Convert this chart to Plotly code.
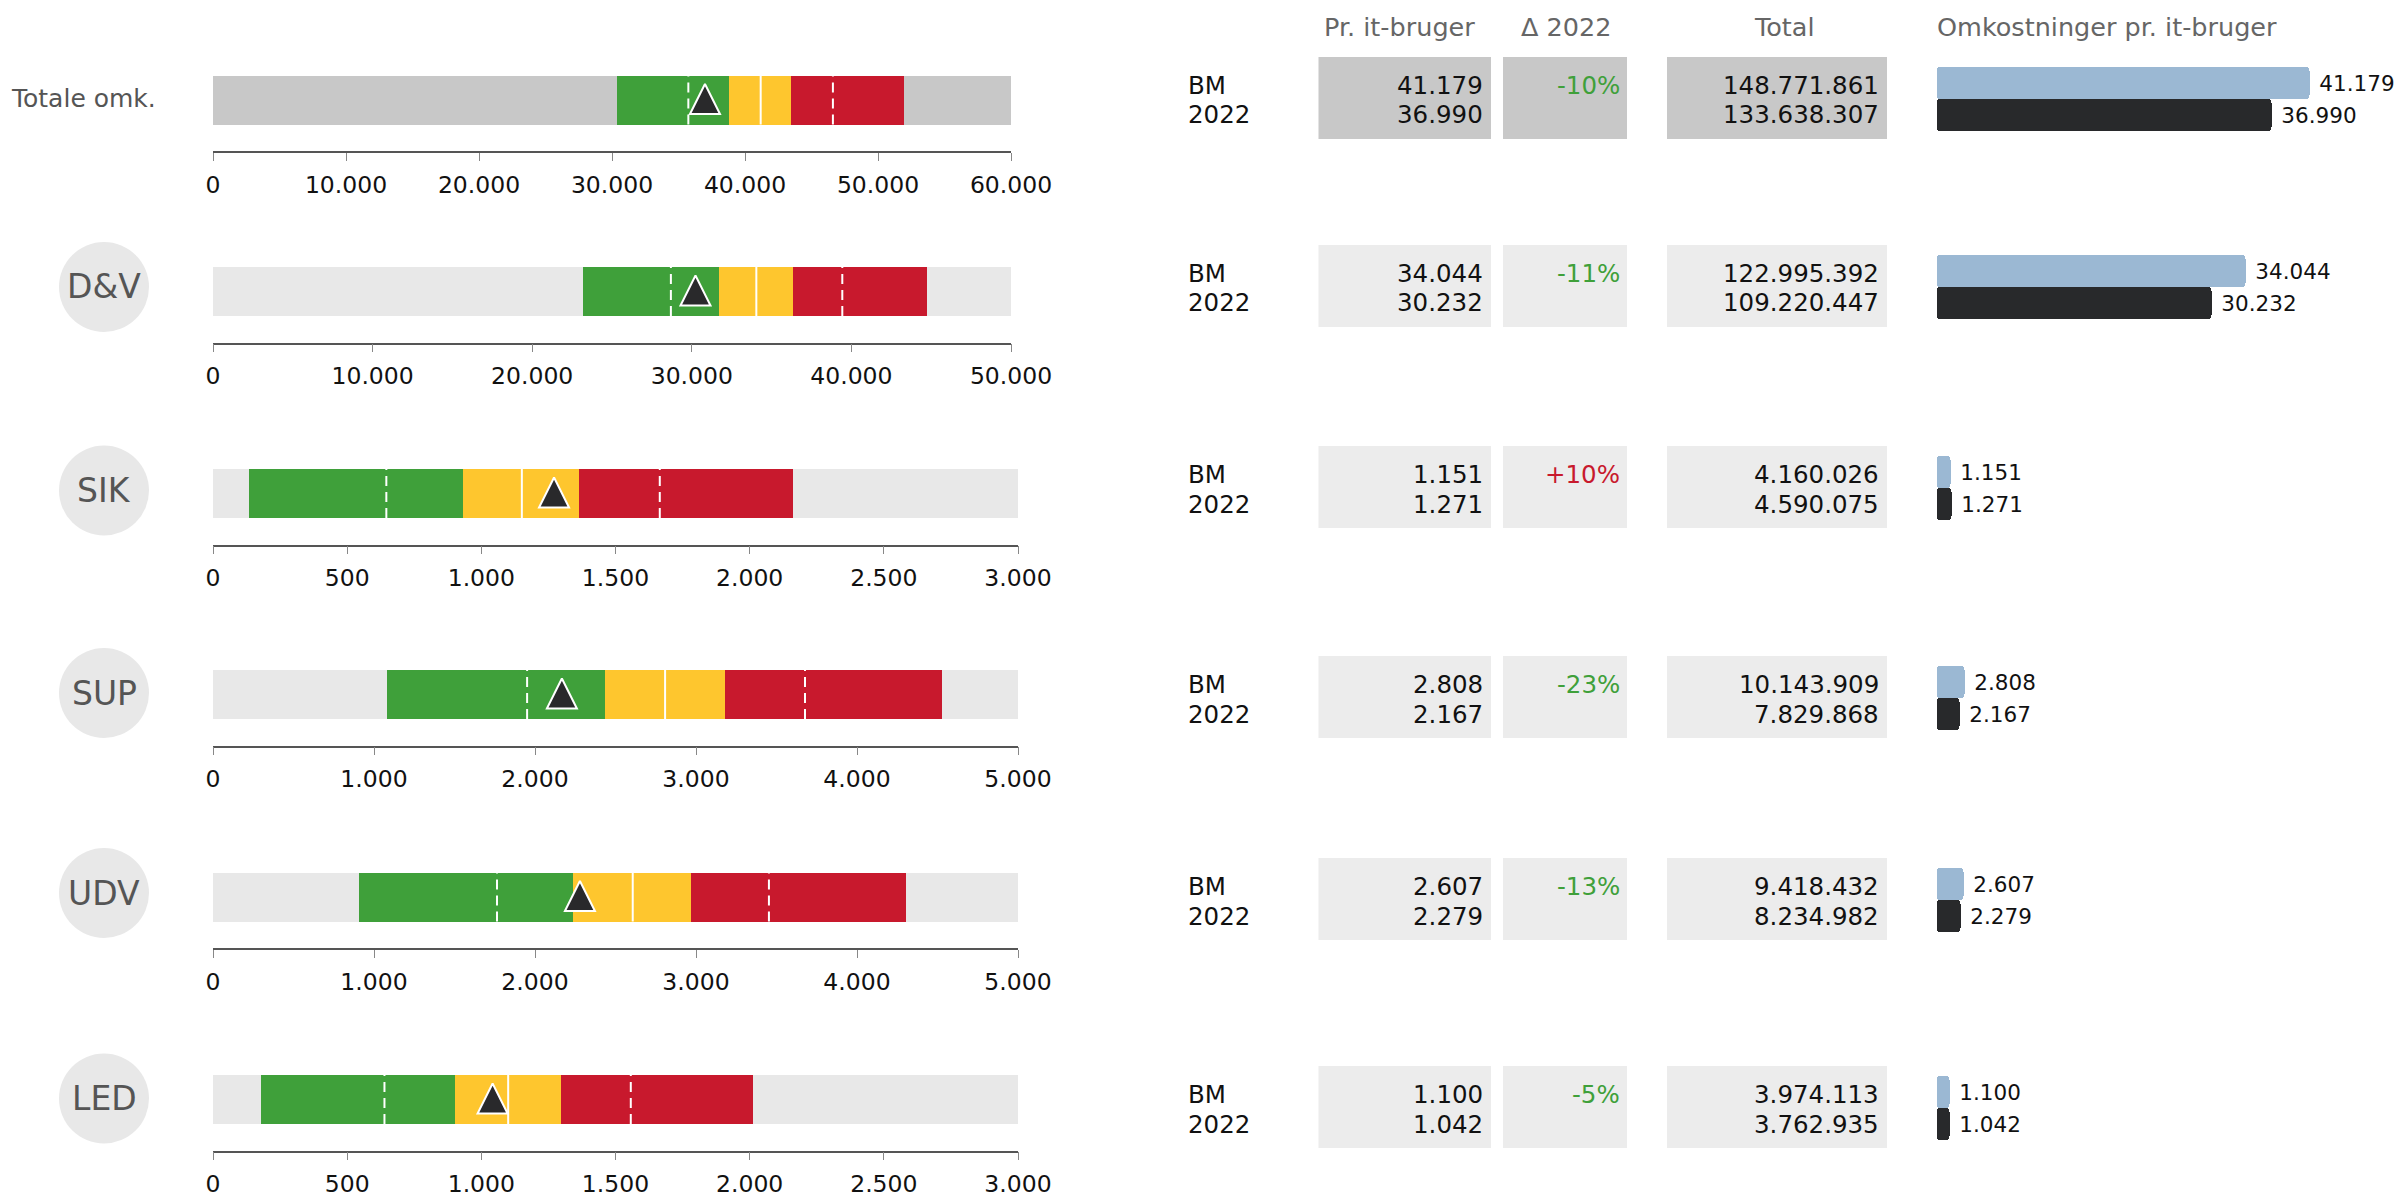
import plotly.graph_objects as go

W, H = 2402, 1197

# ---------------- data ----------------
categories = ["Totale omk.", "D&V", "SIK", "SUP", "UDV", "LED"]
axis_max = [60000, 50000, 3000, 5000, 5000, 3000]
axis_step = [10000, 10000, 500, 1000, 1000, 500]

green_start = [30350, 23200, 135, 1082, 907, 177]
green_mark = [35740, 28690, 646, 1951, 1764, 639]      # dashed line in green band
green_end = [38810, 31710, 931, 2433, 2238, 901]
yellow_end = [43490, 36330, 1365, 3182, 2970, 1298]
red_mark = [46610, 39430, 1665, 3677, 3453, 1557]      # dashed line in red band
red_end = [51950, 44760, 2161, 4530, 4305, 2012]

per_user_bm = [41179, 34044, 1151, 2808, 2607, 1100]
per_user_2022 = [36990, 30232, 1271, 2167, 2279, 1042]
delta_2022 = [-10, -11, 10, -23, -13, -5]
total_bm = [148771861, 122995392, 4160026, 10143909, 9418432, 3974113]
total_2022 = [133638307, 109220447, 4590075, 7829868, 8234982, 3762935]

row_labels = ["BM", "2022"]
headers = ["Pr. it-bruger", "\u0394 2022", "Total", "Omkostninger pr. it-bruger"]

# ---------------- style / geometry ----------------
FONT = "DejaVu Sans"
GREEN, YELLOW, RED = "#3fa03a", "#fec62e", "#c8192d"
TRI = "#29292b"
BM_BAR, Y22_BAR = "#9bb8d3", "#28292b"

bar_centers = [100, 291.5, 493.5, 694.5, 897, 1099.5]
circle_centers = [None, 287, 490.5, 693, 893, 1098.5]
axis_right = [1011, 1011, 1018, 1018, 1018, 1018]
table_tops = [57, 245, 446, 656, 858, 1066]
BAR_H = 49
AX_OFF = 51
MINI_LEFT, MINI_RIGHT = 1936.5, 2400
MINI_PX_PER_UNIT = 0.00898
MINI_MIN_PX = 3.2          # bars keep a small minimum stub, like the original
TABLE_FONT = 24.5


def px(x):
    return x / W


def py(y):
    return 1 - y / H


def fmt(v):
    return f"{v:,}".replace(",", ".")


fig = go.Figure()
axes = {}
shapes = []
annotations = []


def ax_names(n):
    if n == 1:
        return "xaxis", "yaxis", "x", "y"
    return f"xaxis{n}", f"yaxis{n}", f"x{n}", f"y{n}"


stub = MINI_MIN_PX / MINI_PX_PER_UNIT

for i in range(6):
    # ---------- bullet chart ----------
    n = 2 * i + 1
    xk, yk, xr, yr = ax_names(n)
    c = bar_centers[i]
    h = BAR_H / 2
    bg = "#c8c8c8" if i == 0 else "#e8e8e8"
    ticks = list(range(0, axis_max[i] + 1, axis_step[i]))
    axes[xk] = dict(domain=[px(213), px(axis_right[i])], anchor=yr, range=[0, axis_max[i]],
                    showgrid=False, zeroline=False, showline=True, linecolor="#555", linewidth=1.5,
                    ticks="outside", ticklen=8, tickwidth=1.2, tickcolor="#888",
                    tickvals=ticks, tickformat=",d", ticklabelstandoff=4, automargin=False,
                    tickfont=dict(size=23.5, color="#111", family=FONT), fixedrange=True)
    axes[yk] = dict(domain=[py(c + AX_OFF), py(c - h)], anchor=xr, range=[-AX_OFF, h],
                    visible=False, fixedrange=True, automargin=False)

    common = dict(orientation="h", xaxis=xr, yaxis=yr, hoverinfo="skip", showlegend=False)
    fig.add_trace(go.Bar(x=[axis_max[i]], y=[0], base=[0], width=[BAR_H],
                         marker=dict(color=bg, line=dict(width=0)), **common))
    fig.add_trace(go.Bar(x=[green_end[i] - green_start[i]], y=[0], base=[green_start[i]], width=[BAR_H],
                         marker=dict(color=GREEN, line=dict(width=0)), **common))
    fig.add_trace(go.Bar(x=[yellow_end[i] - green_end[i]], y=[0], base=[green_end[i]], width=[BAR_H],
                         marker=dict(color=YELLOW, line=dict(width=0)), **common))
    fig.add_trace(go.Bar(x=[red_end[i] - yellow_end[i]], y=[0], base=[yellow_end[i]], width=[BAR_H],
                         marker=dict(color=RED, line=dict(width=0)), **common))
    fig.add_trace(go.Scatter(x=[green_mark[i], green_mark[i], None, red_mark[i], red_mark[i]],
                             y=[-h, h, None, -h, h], mode="lines",
                             line=dict(color="white", width=2, dash="10px,6px"),
                             xaxis=xr, yaxis=yr, hoverinfo="skip", showlegend=False))
    fig.add_trace(go.Scatter(x=[per_user_bm[i], per_user_bm[i]], y=[-h, h], mode="lines",
                             line=dict(color="white", width=2),
                             xaxis=xr, yaxis=yr, hoverinfo="skip", showlegend=False))
    fig.add_trace(go.Scatter(x=[per_user_2022[i]], y=[16], mode="markers",
                             marker=dict(symbol="arrow-up", size=30, color=TRI,
                                         line=dict(color="white", width=2)),
                             cliponaxis=False,
                             xaxis=xr, yaxis=yr, hoverinfo="skip", showlegend=False))

    # row label
    if i == 0:
        annotations.append(dict(x=px(9), y=py(99), xref="paper", yref="paper", text=categories[i],
                                showarrow=False, xanchor="left", yanchor="middle",
                                font=dict(size=25, color="#555", family=FONT)))
    else:
        cy = circle_centers[i]
        shapes.append(dict(type="circle", xref="paper", yref="paper",
                           x0=px(104 - 45), x1=px(104 + 45), y0=py(cy + 45), y1=py(cy - 45),
                           fillcolor="#e8e8e8", line=dict(width=0), layer="below"))
        annotations.append(dict(x=px(104), y=py(cy), xref="paper", yref="paper", text=categories[i],
                                showarrow=False, xanchor="center", yanchor="middle",
                                font=dict(size=33, color="#555", family=FONT)))

    # ---------- table ----------
    t = table_tops[i]
    box = "#c8c8c8" if i == 0 else "#ececec"
    for (x0, x1) in [(1318.5, 1491), (1503, 1627), (1667, 1887)]:
        shapes.append(dict(type="rect", xref="paper", yref="paper",
                           x0=px(x0), x1=px(x1), y0=py(t + 82), y1=py(t),
                           fillcolor=box, line=dict(width=0), layer="below"))
    ys = [t + 28, t + 58]
    tf = dict(size=TABLE_FONT, color="#111", family=FONT)
    for k, lab in enumerate(row_labels):
        annotations.append(dict(x=px(1185.5), y=py(ys[k]), xref="paper", yref="paper", text=lab,
                                showarrow=False, xanchor="left", yanchor="middle", font=tf))
    annotations.append(dict(x=px(1485), y=py(ys[0]), xref="paper", yref="paper", text=fmt(per_user_bm[i]),
                            showarrow=False, xanchor="right", yanchor="middle", font=tf))
    annotations.append(dict(x=px(1485), y=py(ys[1]), xref="paper", yref="paper", text=fmt(per_user_2022[i]),
                            showarrow=False, xanchor="right", yanchor="middle", font=tf))
    d = delta_2022[i]
    annotations.append(dict(x=px(1621.5), y=py(ys[0]), xref="paper", yref="paper", text=f"{d:+d}%",
                            showarrow=False, xanchor="right", yanchor="middle",
                            font=dict(size=TABLE_FONT, color=GREEN if d < 0 else RED, family=FONT)))
    annotations.append(dict(x=px(1881), y=py(ys[0]), xref="paper", yref="paper", text=fmt(total_bm[i]),
                            showarrow=False, xanchor="right", yanchor="middle", font=tf))
    annotations.append(dict(x=px(1881), y=py(ys[1]), xref="paper", yref="paper", text=fmt(total_2022[i]),
                            showarrow=False, xanchor="right", yanchor="middle", font=tf))

    # ---------- mini bars ----------
    n = 2 * i + 2
    xk, yk, xr, yr = ax_names(n)
    axes[xk] = dict(domain=[px(MINI_LEFT), px(MINI_RIGHT)], anchor=yr,
                    range=[-stub, (MINI_RIGHT - MINI_LEFT) / MINI_PX_PER_UNIT - stub],
                    visible=False, fixedrange=True, automargin=False)
    axes[yk] = dict(domain=[py(t + 10 + 64), py(t + 10)], anchor=xr, range=[-32, 32],
                    visible=False, fixedrange=True, automargin=False)
    for val, yy, col in [(per_user_bm[i], 16, BM_BAR), (per_user_2022[i], -16, Y22_BAR)]:
        fig.add_trace(go.Bar(x=[val + stub], base=[-stub], y=[yy], width=[32], orientation="h",
                             marker=dict(color=col, line=dict(width=0), cornerradius=4),
                             text=[fmt(val)], texttemplate="\u00a0%{text}", textposition="outside",
                             constraintext="none", cliponaxis=False,
                             textfont=dict(size=21.5, color="#111", family=FONT),
                             xaxis=xr, yaxis=yr, hoverinfo="skip", showlegend=False))

# headers
hf = dict(size=25.5, color="#666", family=FONT)
for txt, x, anc in [(headers[0], 1400, "center"), (headers[1], 1566, "center"),
                    (headers[2], 1784, "center"), (headers[3], 1934.5, "left")]:
    annotations.append(dict(x=px(x), y=py(27), xref="paper", yref="paper", text=txt,
                            showarrow=False, xanchor=anc, yanchor="middle", font=hf))

fig.update_layout(
    template="none",
    width=W, height=H, autosize=False, margin=dict(l=0, r=0, t=0, b=0, pad=0, autoexpand=False),
    paper_bgcolor="white", plot_bgcolor="white",
    barmode="overlay", bargap=0, separators=",.",
    font=dict(family=FONT, color="#111"),
    showlegend=False, shapes=shapes, annotations=annotations,
    **axes,
)

fig.write_html("out.html", config={"displayModeBar": False, "responsive": False})
